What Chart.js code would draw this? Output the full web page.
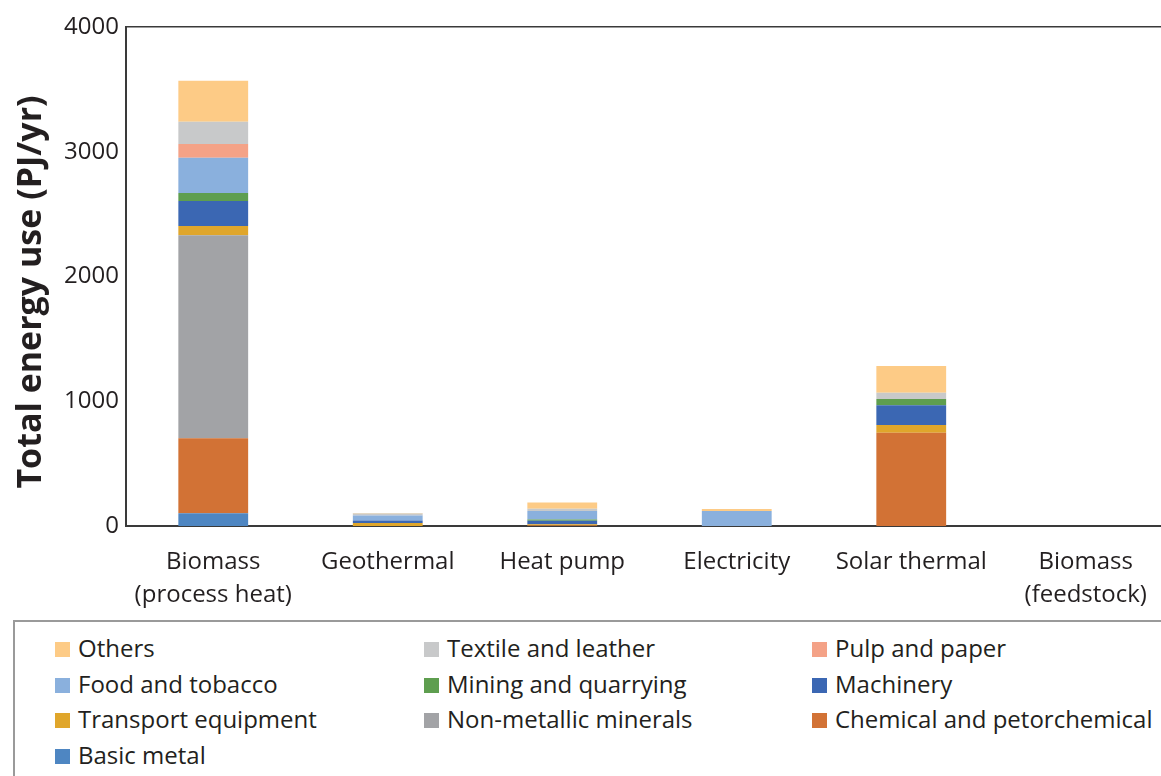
<!DOCTYPE html>
<html>
<head>
<meta charset="utf-8">
<script src="https://cdn.jsdelivr.net/npm/chart.js@4.4.1/dist/chart.umd.min.js"></script>
<style>
  html,body{margin:0;padding:0;background:#fff;overflow:hidden;}
  #wrap{position:relative;width:1161px;height:776px;overflow:hidden;font-family:"Open Sans",sans-serif;}
  #chart{position:absolute;left:0;top:0;}
  #legend{position:absolute;left:13px;top:620px;width:1200px;height:200px;border:2px solid #9a9a9a;box-sizing:border-box;}
  .item{position:absolute;font-size:24px;color:#231f20;white-space:nowrap;line-height:24px;}
  .sw{display:inline-block;width:15px;height:15px;margin-right:8px;vertical-align:0px;}
</style>
</head>
<body>
<div id="wrap">
  <canvas id="chart" width="1180" height="615"></canvas>
  <div id="legend"></div>
</div>
<script>
// categories (x axis)
const categories=[['Biomass','(process heat)'],'Geothermal','Heat pump','Electricity','Solar thermal',['Biomass','(feedstock)']];
const yTicks=[0,1000,2000,3000,4000];

// sector values, PJ/yr, one per category
const basicMetal   =[102,0,0,0,0,0];
const chemical     =[601,0,5,0,748,0];
const nonMetallic  =[1627,0,0,0,0,0];
const transport    =[75,25,10,0,62,0];
const machinery    =[200,20,27,0,157,0];
const mining       =[64,0,11,0,51,0];
const food         =[283,40,67,120,0,0];
const pulp         =[110,0,0,0,0,0];
const textile      =[179,15,19,0,51,0];
const others       =[329,5,50,17,214,0];

const series=[
  ['Basic metal',basicMetal,'#4e86c2'],
  ['Chemical and petorchemical',chemical,'#d27235'],
  ['Non-metallic minerals',nonMetallic,'#a2a3a6'],
  ['Transport equipment',transport,'#e0a62b'],
  ['Machinery',machinery,'#3b67b3'],
  ['Mining and quarrying',mining,'#5e9e4f'],
  ['Food and tobacco',food,'#8ab0dd'],
  ['Pulp and paper',pulp,'#f4a287'],
  ['Textile and leather',textile,'#c8c9ca'],
  ['Others',others,'#fdcb86']
];

const datasets=series.map(s=>({label:s[0],data:s[1],backgroundColor:s[2],borderWidth:0,
  barPercentage:0.4,categoryPercentage:1}));

const fontTick={family:'"Open Sans", sans-serif',size:24,lineHeight:1.4};
const yTitle='Total energy use (PJ/yr)';

// rotated y title, a little below the plot centre as in the original
const yTitlePlugin={
  id:'yTitle',
  afterDraw(c){
    const ctx=c.ctx;
    ctx.save();
    ctx.translate(31,292);
    ctx.rotate(-Math.PI/2);
    ctx.font='bold 34px "Open Sans", sans-serif';
    ctx.fillStyle='#231f20';
    ctx.textAlign='center';
    ctx.textBaseline='middle';
    ctx.fillText(yTitle,0,0);
    ctx.restore();
  }
};

const chart=new Chart(document.getElementById('chart').getContext('2d'),{
  type:'bar',
  data:{labels:categories,datasets:datasets},
  plugins:[yTitlePlugin],
  options:{
    responsive:false,
    animation:false,
    layout:{padding:{top:27,right:7,left:0,bottom:0}},
    plugins:{legend:{display:false},tooltip:{enabled:false}},
    scales:{
      x:{
        stacked:true,
        grid:{display:false,drawTicks:false},
        border:{display:true,color:'#3a3a3a',width:2},
        ticks:{font:fontTick,color:'#231f20',padding:19,maxRotation:0,autoSkip:false},
        afterFit:s=>{s.height=89;}
      },
      xTop:{
        position:'top',
        grid:{display:false,drawTicks:false},
        border:{display:true,color:'#3a3a3a',width:1.5},
        ticks:{display:false},
        afterFit:s=>{s.height=0;}
      },
      y:{
        stacked:true,
        min:0,max:4000,
        grid:{display:false,drawTicks:false},
        border:{display:true,color:'#3a3a3a',width:2},
        afterBuildTicks:s=>{s.ticks=yTicks.map(v=>({value:v}));},
        ticks:{font:fontTick,color:'#231f20',padding:7,callback:v=>String(v)},
        afterFit:s=>{s.width=126;}
      }
    }
  }
});

// legend, reversed to match the stacking order
const legend=document.getElementById('legend');
const colX=[40,409,797];
series.slice().reverse().forEach((s,i)=>{
  const d=document.createElement('div');
  d.className='item';
  d.style.left=colX[i%3]+'px';
  d.style.top=(14+Math.floor(i/3)*35.7)+'px';
  d.innerHTML='<span class="sw" style="background:'+s[2]+'"></span>'+s[0];
  legend.appendChild(d);
});
</script>
</body>
</html>
